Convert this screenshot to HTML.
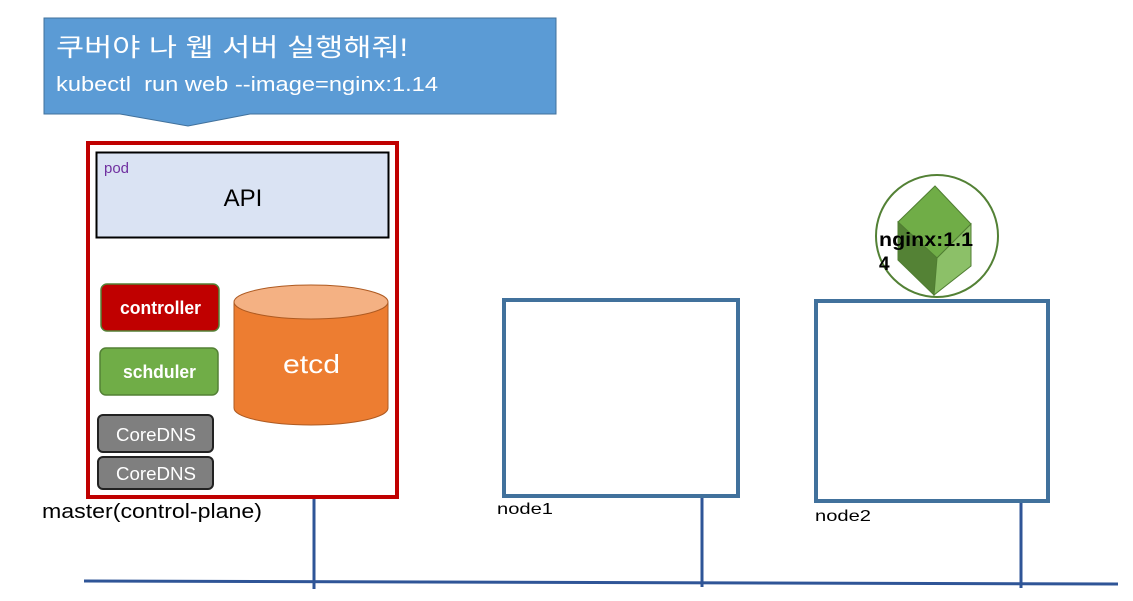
<!DOCTYPE html>
<html><head><meta charset="utf-8"><style>
html,body{margin:0;padding:0;background:#fff;width:1133px;height:601px;overflow:hidden}
svg text{font-family:"Liberation Sans","Noto Sans CJK KR",sans-serif}
</style></head><body>
<svg width="1133" height="601" viewBox="0 0 1133 601" xmlns="http://www.w3.org/2000/svg">
<!-- callout -->
<path d="M44,18 H556 V114 H250 L188,126 L120,114 H44 Z" fill="#5b9bd5" stroke="#41719c" stroke-width="1"/>
<text x="56" y="56" font-size="25" fill="#fff" textLength="352" lengthAdjust="spacingAndGlyphs">쿠버야 나 웹 서버 실행해줘!</text>
<text x="56" y="91" font-size="20" fill="#fff" xml:space="preserve" textLength="382" lengthAdjust="spacingAndGlyphs">kubectl  run web --image=nginx:1.14</text>
<!-- master -->
<rect x="88" y="143" width="309" height="354" fill="#fff" stroke="#c00000" stroke-width="4"/>
<rect x="96.5" y="152.5" width="292" height="85" fill="#dae3f3" stroke="#000" stroke-width="2"/>
<text x="104" y="173" font-size="15" fill="#7030a0">pod</text>
<text x="243" y="206" font-size="24" fill="#000" text-anchor="middle">API</text>
<rect x="101" y="284" width="118" height="47" rx="6" fill="#c00000" stroke="#538135" stroke-width="1.5"/>
<text x="120" y="314" font-size="18" font-weight="bold" fill="#fff" textLength="81" lengthAdjust="spacingAndGlyphs">controller</text>
<rect x="100" y="348" width="118" height="47" rx="6" fill="#70ad47" stroke="#538135" stroke-width="1.5"/>
<text x="123" y="378" font-size="18" font-weight="bold" fill="#fff" textLength="73" lengthAdjust="spacingAndGlyphs">schduler</text>
<rect x="98" y="415" width="115" height="37" rx="5" fill="#7f7f7f" stroke="#222" stroke-width="2"/>
<text x="116" y="441" font-size="18" fill="#fff" textLength="80" lengthAdjust="spacingAndGlyphs">CoreDNS</text>
<rect x="98" y="457" width="115" height="32" rx="5" fill="#7f7f7f" stroke="#222" stroke-width="2"/>
<text x="116" y="480" font-size="18" fill="#fff" textLength="80" lengthAdjust="spacingAndGlyphs">CoreDNS</text>
<!-- etcd -->
<path d="M234,302 V408 A77,17 0 0 0 388,408 V302" fill="#ed7d31" stroke="#ae5a21" stroke-width="1"/>
<ellipse cx="311" cy="302" rx="77" ry="17" fill="#f4b183" stroke="#ae5a21" stroke-width="1"/>
<text x="283" y="373" font-size="26" fill="#fff" textLength="57" lengthAdjust="spacingAndGlyphs">etcd</text>
<text x="42" y="518" font-size="20" fill="#000" textLength="220" lengthAdjust="spacingAndGlyphs">master(control-plane)</text>
<!-- nodes -->
<rect x="504" y="300" width="234" height="196" fill="#fff" stroke="#41719c" stroke-width="4"/>
<text x="497" y="514" font-size="16" fill="#000" textLength="56" lengthAdjust="spacingAndGlyphs">node1</text>
<rect x="816" y="301" width="232" height="200" fill="#fff" stroke="#41719c" stroke-width="4"/>
<text x="815" y="521" font-size="16" fill="#000" textLength="56" lengthAdjust="spacingAndGlyphs">node2</text>
<!-- nginx -->
<circle cx="937" cy="236" r="61" fill="#fff" stroke="#538135" stroke-width="2"/>
<polygon points="935,186 898,222 937,258 971,224" fill="#70ad47" stroke="#507e32" stroke-width="1"/>
<polygon points="898,222 937,258 934,295 898,260" fill="#548235" stroke="#507e32" stroke-width="1"/>
<polygon points="937,258 971,224 971,266 934,295" fill="#8cc068" stroke="#507e32" stroke-width="1"/>
<text x="879" y="246" font-size="19" font-weight="bold" fill="#000" textLength="94" lengthAdjust="spacingAndGlyphs">nginx:1.1</text>
<text x="879" y="270" font-size="19" font-weight="bold" fill="#000">4</text>
<!-- network -->
<line x1="84" y1="581" x2="1118" y2="584" stroke="#2f5597" stroke-width="3"/>
<line x1="314" y1="499" x2="314" y2="589" stroke="#2f5597" stroke-width="3"/>
<line x1="702" y1="498" x2="702" y2="587" stroke="#2f5597" stroke-width="3"/>
<line x1="1021" y1="503" x2="1021" y2="588" stroke="#2f5597" stroke-width="3"/>
</svg>
</body></html>
